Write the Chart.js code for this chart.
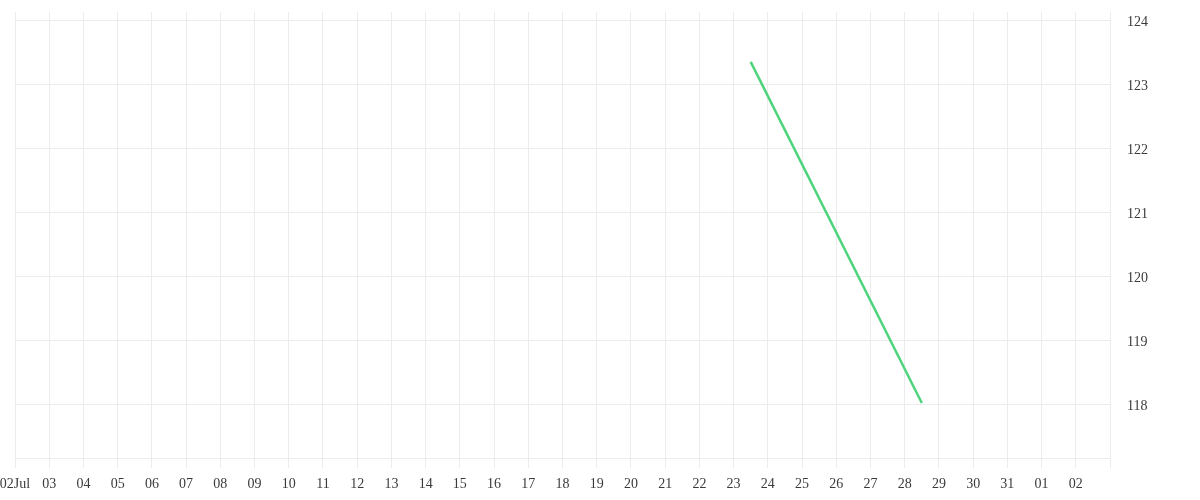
<!DOCTYPE html>
<html>
<head>
<meta charset="utf-8">
<script src="https://cdn.jsdelivr.net/npm/chart.js@4/dist/chart.umd.min.js"></script>
<style>
html,body{margin:0;padding:0;background:#fff;}
#wrap{width:1200px;height:500px;position:relative;}
</style>
</head>
<body>
<div id="wrap"><canvas id="c"></canvas></div>
<script>
// Day labels from 02 Jul to 03 Aug (index = days since 02 Jul)
const dayLabels = ["02Jul","03","04","05","06","07","08","09","10","11","12","13","14","15","16","17","18","19","20","21","22","23","24","25","26","27","28","29","30","31","01","02",""];
// Series points: day offset (from 02 Jul, noon = .5) and value
const seriesX = [21.5, 26.5];
const seriesY = [123.35, 118.02];
const yTicks = [118, 119, 120, 121, 122, 123, 124];
const yMin = 117.16;
const yMax = 124.13;

const points = seriesX.map((x, i) => ({x: x, y: seriesY[i]}));

Chart.defaults.font.family = "'Liberation Serif', 'DejaVu Serif', serif";
Chart.defaults.font.size = 14;
Chart.defaults.color = '#3a3a3a';

new Chart(document.getElementById('c'), {
  type: 'line',
  data: {
    datasets: [{
      data: points,
      borderColor: 'rgb(77,212,125)',
      backgroundColor: 'rgb(77,212,125)',
      borderWidth: 2.5,
      pointRadius: 0,
      fill: false,
      tension: 0
    }]
  },
  options: {
    responsive: true,
    maintainAspectRatio: false,
    animation: false,
    layout: {padding: {top: 12, right: 0, bottom: 0, left: 0}},
    plugins: {legend: {display: false}, tooltip: {enabled: false}},
    scales: {
      x: {
        type: 'linear',
        min: 0,
        max: dayLabels.length - 1,
        grid: {color: '#ececec', tickLength: 10},
        border: {color: '#ececec'},
        afterFit: (s) => { s.height = 42; s.paddingLeft = 15; s.paddingRight = 0; },
        ticks: {
          stepSize: 1,
          autoSkip: false,
          maxRotation: 0,
          padding: 8,
          callback: (v) => dayLabels[Math.round(v)] ?? ''
        }
      },
      y: {
        position: 'right',
        min: yMin,
        max: yMax,
        afterBuildTicks: (s) => { s.ticks = yTicks.map(v => ({value: v})); },
        afterFit: (s) => { s.width = 90; s.paddingTop = 0; s.paddingBottom = 0; },
        grid: {color: '#ececec', drawTicks: false},
        border: {color: '#ececec'},
        ticks: {padding: 17, labelOffset: 2}
      }
    }
  }
});
</script>
</body>
</html>
